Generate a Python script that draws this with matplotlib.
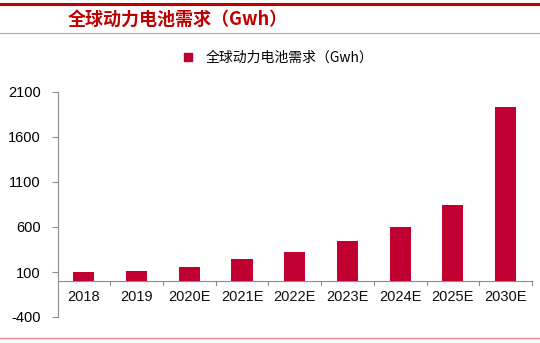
import matplotlib.pyplot as plt
import numpy as np
from matplotlib.lines import Line2D

plt.rcParams['font.family'] = ['Liberation Sans', 'Noto Sans CJK SC', 'DejaVu Sans']

years = ["2018", "2019", "2020E", "2021E", "2022E", "2023E", "2024E", "2025E", "2030E"]
demand = [97, 111, 152, 241, 326, 444, 600, 841, 1933]
y_ticks = [-400, 100, 600, 1100, 1600, 2100]

bar_color = "#C00030"
axis_color = "#8C8C8C"

fig = plt.figure(figsize=(5.4, 3.43), dpi=100)
# axes spans -400 .. 2100 exactly
ax = fig.add_axes([57.5 / 540, 1 - 317 / 343, (532 - 57.5) / 540, (317 - 92) / 343])

x = np.arange(len(years))
ax.bar(x, demand, width=0.4, color=bar_color, zorder=3)

ax.set_xlim(-0.5, len(years) - 0.5)
ax.set_ylim(-400, 2100)
ax.set_yticks(y_ticks)
ax.set_yticklabels([str(v) for v in y_ticks], fontsize=10.5)
ax.tick_params(axis="y", direction="out", length=4, color=axis_color, width=0.8, pad=8)

for s in ("top", "right", "bottom"):
    ax.spines[s].set_visible(False)
ax.spines["left"].set_color(axis_color)
ax.spines["left"].set_linewidth(0.8)

# category axis at zero
ax.axhline(0, color=axis_color, linewidth=0.8, zorder=2)
ax.set_xticks([])
for i in range(1, len(years) + 1):
    ax.plot([i - 0.5, i - 0.5], [0, -40], color=axis_color, linewidth=0.8, clip_on=False)
for i, lab in enumerate(years):
    ax.text(i, -175, lab, ha="center", va="center", fontsize=10.5, color="#111111")

# legend
handle = Line2D([], [], marker="s", linestyle="none", markersize=6, color=bar_color)
fig.legend([handle], ["全球动力电池需求（Gwh）"], loc="center", bbox_to_anchor=(274 / 540, 1 - 58 / 343),
           frameon=False, handletextpad=0.3, prop={"family": ["Noto Sans CJK SC"], "size": 10})

# header decoration
fig.add_artist(Line2D([0, 1], [1 - 4 / 343, 1 - 4 / 343], color="#C00000", linewidth=2.2))
fig.add_artist(Line2D([0, 1], [1 - 33 / 343, 1 - 33 / 343], color="#E89090", linewidth=0.8))
fig.add_artist(Line2D([0, 1], [1 - 338 / 343, 1 - 338 / 343], color="#E88080", linewidth=0.9))
fig.text(68 / 540, 1 - 19 / 343, "全球动力电池需求（Gwh）", ha="left", va="center", fontsize=13,
         color="#C00000", fontweight="bold", style="italic",
         family=["Noto Sans CJK SC", "DejaVu Sans"])

fig.savefig("out.png", dpi=100)
